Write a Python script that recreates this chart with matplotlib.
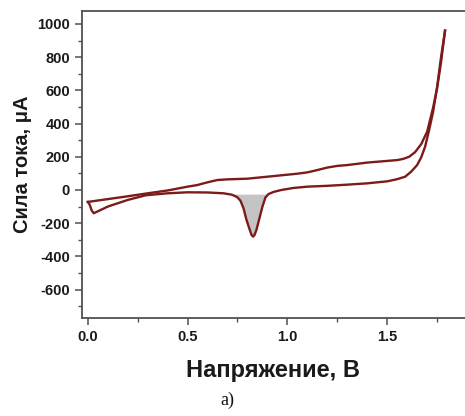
import matplotlib
matplotlib.use('Agg')
import numpy as np
import matplotlib.pyplot as plt
from matplotlib.ticker import MultipleLocator, FormatStrFormatter

plt.rcParams['axes.unicode_minus'] = False

# anodic (upper) branch, V and uA
v_fwd = [0.0, 0.1, 0.2, 0.3, 0.4, 0.5, 0.55, 0.58, 0.62, 0.65, 0.7, 0.8, 0.9, 1.0,
         1.05, 1.1, 1.15, 1.2, 1.25, 1.3, 1.4, 1.5, 1.55, 1.58, 1.61, 1.64, 1.67,
         1.7, 1.73, 1.75, 1.77, 1.79]
i_fwd = [-72, -55, -38, -20, -3, 20, 30, 40, 52, 60, 64, 68, 80, 92,
         98, 106, 120, 135, 145, 150, 165, 175, 180, 187, 200, 228, 275,
         350, 495, 610, 770, 960]

# cathodic (lower) branch, from 1.79 V back to 0
v_rev = [1.79, 1.77, 1.75, 1.73, 1.71, 1.69, 1.67, 1.65, 1.62, 1.59, 1.55, 1.5, 1.4,
         1.3, 1.2, 1.1, 1.03, 0.97, 0.93, 0.905, 0.89, 0.875, 0.86, 0.845, 0.835,
         0.828, 0.82, 0.81, 0.795, 0.78, 0.765, 0.75, 0.735, 0.72, 0.68, 0.6, 0.5,
         0.4, 0.29, 0.2, 0.1, 0.03, 0.02, 0.008, 0.0]
i_rev = [960, 800, 620, 470, 360, 260, 195, 150, 110, 80, 65, 52, 40,
         32, 25, 20, 12, 0, -12, -25, -45, -100, -170, -240, -272,
         -281, -270, -235, -180, -110, -65, -45, -35, -28, -20, -15, -14,
         -20, -32, -60, -100, -140, -125, -85, -72]

peak_lo, peak_hi, peak_base = 0.735, 0.905, -25

line_color = '#7d1a1a'
text_color = '#1a1a1a'

fig = plt.figure(figsize=(4.65, 4.16), dpi=100)
ax = fig.add_axes([0.176, 0.2356, 0.824, 0.738])

v_r = np.array(v_rev)
i_r = np.array(i_rev)
mask = (v_r >= peak_lo) & (v_r <= peak_hi)
ax.fill_between(v_r[mask], i_r[mask], peak_base, color='#c4c4c4', zorder=1,
                linewidth=0)

ax.plot(v_fwd, i_fwd, color=line_color, lw=1.7, zorder=3, solid_joinstyle='round')
ax.plot(v_rev, i_rev, color=line_color, lw=1.7, zorder=3, solid_joinstyle='round')

ax.set_xlim(-0.03, 1.89)
ax.set_ylim(-771, 1078)
ax.xaxis.set_major_locator(MultipleLocator(0.5))
ax.xaxis.set_minor_locator(MultipleLocator(0.25))
ax.set_yticks(np.arange(-600, 1001, 200))
ax.yaxis.set_minor_locator(MultipleLocator(100))
ax.xaxis.set_major_formatter(FormatStrFormatter('%.1f'))

ax.spines['right'].set_visible(False)
for s in ['left', 'bottom', 'top']:
    ax.spines[s].set_color('#505050')
    ax.spines[s].set_linewidth(1.3)

ax.tick_params(which='major', direction='out', length=5, width=1.1, color='#505050',
               labelsize=10.5, labelcolor=text_color, pad=3.5)
ax.tick_params(which='minor', direction='out', length=3, width=1.0, color='#505050')
for lab in ax.get_xticklabels() + ax.get_yticklabels():
    lab.set_fontfamily('Liberation Sans')
    lab.set_fontweight('bold')

ax.set_xlabel('Напряжение, В', fontsize=17, family='Liberation Sans', weight='bold',
              color=text_color, labelpad=11)
ax.set_ylabel('Сила тока, μA', fontsize=14.5, family='Liberation Sans', weight='bold',
              color=text_color, labelpad=4)

fig.text(0.49, 0.038, 'а)', fontsize=13, family='Liberation Serif',
         ha='center', va='center', color='#111111')

fig.savefig('out.png', dpi=100)
